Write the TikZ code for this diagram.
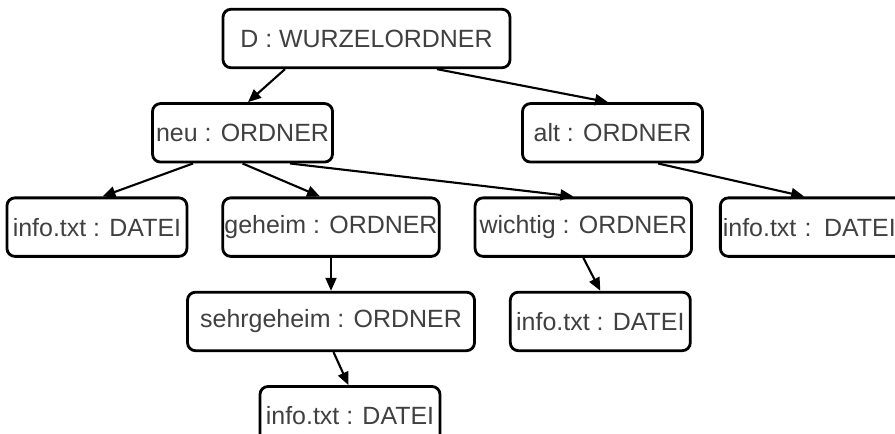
\documentclass[tikz,border=0pt]{standalone}
\usepackage{fontspec}
\setmainfont{Liberation Sans}
\usepackage{tikz}
\usetikzlibrary{arrows.meta, positioning}

\begin{document}
\begin{tikzpicture}[
    node distance=0.66cm,
    box/.style={rectangle, draw, line width=1.6pt, rounded corners=0.16cm, fill=white, minimum width=3.6cm, minimum height=1.17cm, inner sep=0pt, align=center, text=black!75, font=\fontsize{14.2}{17}\selectfont},
    wide/.style={minimum width=4.33cm},
    widest/.style={minimum width=5.74cm},
    arrow/.style={-{Triangle[length=2.6mm, width=2.2mm]}, line width=1.2pt}
]
\useasboundingbox (0,0) rectangle (17.9,-8.66);

% Root
\node[box, widest] (wurzel) at (7.33,-0.77) {D : WURZELORDNER};

% First level
\node[box, below=of wurzel, xshift=-2.48cm] (neu) {neu : ORDNER};
\node[box, below=of wurzel, xshift=4.92cm] (alt) {alt : ORDNER};

% Second level
\node[box, wide, below=of neu, xshift=1.77cm] (geheim) {geheim : ORDNER};
\node[box, left=of geheim] (infoneu) {info.txt : DATEI};
\node[box, wide, right=of geheim] (wichtig) {wichtig : ORDNER};
\node[box, right=0.52cm of wichtig, text width=3.55cm, inner xsep=0.05cm, align=left] (infoalt) {info.txt : DATEI};

% Third level
\node[box, widest, below=of geheim] (sehrgeheim) {sehrgeheim : ORDNER};
\node[box, right=of sehrgeheim] (infowichtig) {info.txt : DATEI};

% Fourth level
\node[box, below=of sehrgeheim, xshift=0.38cm] (infosehr) {info.txt : DATEI};

% Arrows
\draw[arrow] ([xshift=-1.63cm]wurzel.south) -- ([xshift=0.11cm]neu.north);
\draw[arrow] ([xshift=1.41cm]wurzel.south) -- ([xshift=-0.09cm]alt.north);
\draw[arrow] ([xshift=-0.99cm]neu.south) -- ([xshift=0.11cm]infoneu.north);
\draw[arrow] (neu.south) -- ([xshift=-0.22cm]geheim.north);
\draw[arrow] ([xshift=0.95cm]neu.south) -- ([xshift=-0.2cm]wichtig.north);
\draw[arrow] ([xshift=0.91cm]alt.south) -- ([xshift=-0.15cm]infoalt.north);
\draw[arrow] (geheim.south) -- (sehrgeheim.north);
\draw[arrow] (wichtig.south) -- (infowichtig.north);
\draw[arrow] ([xshift=0.05cm]sehrgeheim.south) -- ([xshift=-0.03cm]infosehr.north);

\end{tikzpicture}
\end{document}
